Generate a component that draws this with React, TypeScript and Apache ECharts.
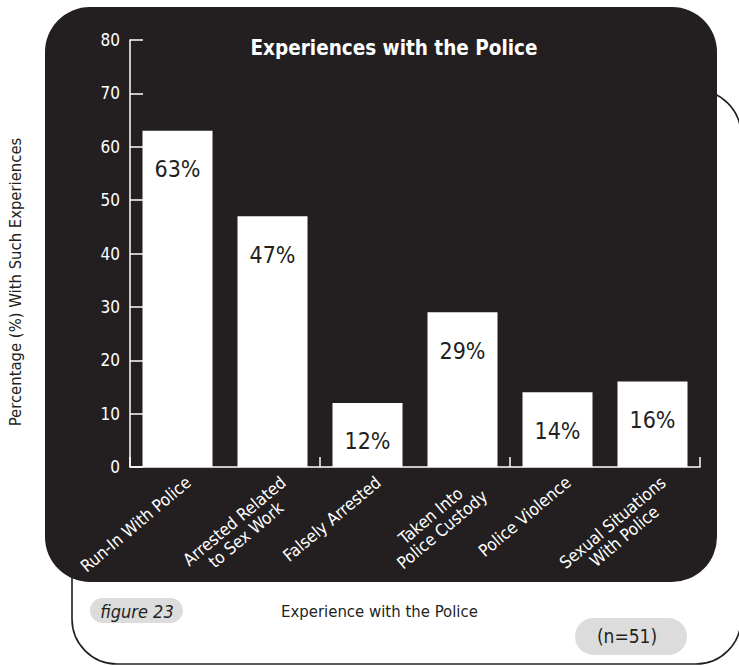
import React, { useEffect, useRef } from "react";
import * as echarts from "echarts";

const categories = [
  "Run-In With Police",
  "Arrested Related\nto Sex Work",
  "Falsely Arrested",
  "Taken Into\nPolice Custody",
  "Police Violence",
  "Sexual Situations\nWith Police",
];
const values = [63, 47, 12, 29, 14, 16];
const yTicks = { min: 0, max: 80, interval: 10 };

const FONT = '"DejaVu Sans Condensed", "DejaVu Sans", sans-serif';
const DARK = "#231f20";

export default function App() {
  const ref = useRef<HTMLDivElement>(null);
  useEffect(() => {
    if (!ref.current) return;
    const chart = echarts.init(ref.current, null, { renderer: "svg" });
    chart.setOption({
      animation: false,
      backgroundColor: "#ffffff",
      textStyle: { fontFamily: FONT },
      title: {
        text: "Experiences with the Police",
        left: 389,
        top: 32,
        textAlign: "center",
        textStyle: { color: "#ffffff", fontSize: 20.5, fontWeight: "bold", fontFamily: FONT },
      },
      grid: [
        { left: 130, right: 39, top: 40, bottom: 199, containLabel: false, outerBoundsMode: "none" },
        { left: 135, right: 34, top: 40, bottom: 199, containLabel: false, outerBoundsMode: "none" },
      ],
      xAxis: [
        {
          type: "category",
          gridIndex: 0,
          data: categories,
          axisLine: { show: true, lineStyle: { color: "#ffffff", width: 1.5 } },
          axisTick: { show: true, inside: true, length: 10, lineStyle: { color: "#ffffff", width: 1.5 } },
          axisLabel: { show: false },
        },
        {
          type: "category",
          gridIndex: 1,
          data: categories,
          axisLine: { show: false },
          axisTick: { show: false },
          axisLabel: {
            color: "#ffffff",
            fontSize: 17,
            rotate: 40,
            interval: 0,
            margin: 6,
            verticalAlign: "top",
            fontFamily: FONT,
            formatter: (v: string) =>
              v
                .split("\n")
                .map((l) => `{c|${l}}`)
                .join("\n"),
            rich: {
              c: { align: "center", color: "#ffffff", fontSize: 17, lineHeight: 18, fontFamily: FONT },
            },
          },
        },
      ],
      yAxis: [
        {
          type: "value",
          gridIndex: 0,
          min: yTicks.min,
          max: yTicks.max,
          interval: yTicks.interval,
          axisLine: { show: true, lineStyle: { color: "#ffffff", width: 1.5 } },
          axisTick: { show: true, inside: true, length: 13, lineStyle: { color: "#ffffff", width: 1.5 } },
          splitLine: { show: false },
          axisLabel: { color: "#ffffff", fontSize: 17, margin: 10, fontFamily: FONT },
        },
        {
          type: "value",
          gridIndex: 1,
          min: yTicks.min,
          max: yTicks.max,
          interval: yTicks.interval,
          show: false,
        },
      ],
      series: [
        {
          type: "bar",
          xAxisIndex: 0,
          yAxisIndex: 0,
          data: values,
          barWidth: 70,
          itemStyle: { color: "#ffffff" },
          label: {
            show: true,
            position: "insideTop",
            distance: 27,
            formatter: "{c}%",
            color: DARK,
            fontSize: 23,
            fontFamily: FONT,
          },
        },
      ],
      graphic: {
        elements: [
          {
            type: "rect",
            z: -20,
            silent: true,
            shape: { x: 72, y: 90, width: 669, height: 574, r: 45 },
            style: { fill: "#ffffff", stroke: DARK, lineWidth: 1.6 },
          },
          {
            type: "rect",
            z: -10,
            silent: true,
            shape: { x: 45, y: 7, width: 672, height: 575, r: 45 },
            style: { fill: DARK },
          },
          {
            type: "text",
            z: 5,
            x: 15,
            y: 282,
            rotation: Math.PI / 2,
            style: {
              text: "Percentage (%) With Such Experiences",
              fill: DARK,
              fontSize: 16.5,
              fontFamily: FONT,
              textAlign: "center",
              textVerticalAlign: "middle",
            },
          },
          {
            type: "rect",
            z: -5,
            silent: true,
            shape: { x: 90, y: 598, width: 93, height: 25, r: 12.5 },
            style: { fill: "#dcdcdc" },
          },
          {
            type: "text",
            z: 5,
            x: 137,
            y: 611,
            style: {
              text: "figure 23",
              fill: DARK,
              fontSize: 18,
              fontStyle: "italic",
              fontFamily: FONT,
              textAlign: "center",
              textVerticalAlign: "middle",
            },
          },
          {
            type: "text",
            z: 5,
            x: 281,
            y: 611,
            style: {
              text: "Experience with the Police",
              fill: DARK,
              fontSize: 16.6,
              fontFamily: FONT,
              textAlign: "left",
              textVerticalAlign: "middle",
            },
          },
          {
            type: "rect",
            z: -5,
            silent: true,
            shape: { x: 575, y: 618, width: 112, height: 37, r: 18.5 },
            style: { fill: "#dcdcdc" },
          },
          {
            type: "text",
            z: 5,
            x: 627,
            y: 636,
            style: {
              text: "(n=51)",
              fill: DARK,
              fontSize: 19,
              fontFamily: FONT,
              textAlign: "center",
              textVerticalAlign: "middle",
            },
          },
        ],
      },
    });
    return () => chart.dispose();
  }, []);
  return (
    <div
      ref={ref}
      style={{ position: "fixed", left: 0, top: 0, width: 739, height: 666 }}
    />
  );
}
